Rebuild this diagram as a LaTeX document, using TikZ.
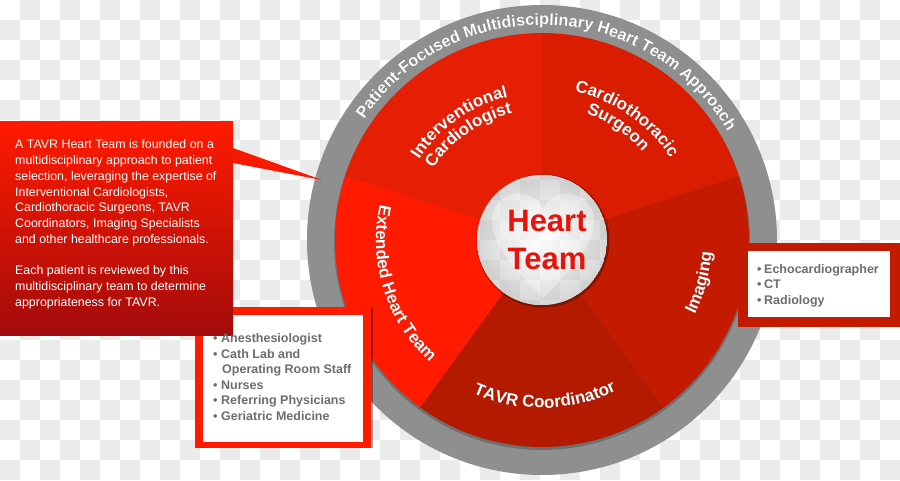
\documentclass[tikz,border=0pt]{standalone}
\usepackage{fontspec}
\setmainfont{Liberation Sans}
\usetikzlibrary{decorations.text}
\definecolor{checkgray}{HTML}{EBEBEB}
\definecolor{ringgray}{HTML}{8F8F8F}
\definecolor{segI}{HTML}{E61E03}
\definecolor{segC}{HTML}{DA1C00}
\definecolor{segM}{HTML}{C41A00}
\definecolor{segT}{HTML}{B31A00}
\definecolor{segE}{HTML}{FF1A00}
\definecolor{boxTop}{HTML}{FF1A00}
\definecolor{boxBot}{HTML}{A30B0B}
\definecolor{listgray}{HTML}{6D6D6D}
\definecolor{heartred}{HTML}{E8140C}
\newcommand{\labfont}{\fontsize{17}{17}\selectfont\bfseries}
\newcommand{\ringfont}{\fontsize{16.3}{16.3}\selectfont\bfseries}
\newcommand{\arclab}[5]{%
  \begin{scope}[shift={(0.9,-0.9)},opacity=0.45]
    \path[decorate,decoration={text along path,text align=center,text color=black,text={|#4|#5}}]
      (C) ++(#2:#1pt) arc[start angle=#2,end angle=#3,radius=#1pt];
  \end{scope}
  \path[decorate,decoration={text along path,text align=center,text color=white,text={|#4|#5}}]
    (C) ++(#2:#1pt) arc[start angle=#2,end angle=#3,radius=#1pt];
}
\tikzset{
  lefttxt/.style={anchor=base west,inner sep=0pt,text=white,font=\fontsize{12.4}{15}\selectfont},
  listtxt/.style={anchor=base west,inner sep=0pt,text=listgray,font=\fontsize{12.5}{15}\selectfont\bfseries},
  hearttxt/.style={anchor=base,inner sep=0pt,text=heartred,font=\fontsize{31}{31}\selectfont\bfseries}
}
\begin{document}
\begin{tikzpicture}[x=1pt,y=1pt]
\useasboundingbox (0,0) rectangle (900,480);
% background checkerboard
\fill[white] (0,0) rectangle (900,480);
\foreach \j in {0,...,23}{\foreach \i in {0,...,44}{%
  \pgfmathtruncatemacro\p{mod(\i+\j,2)}%
  \ifnum\p=1 \fill[checkgray] (20*\i,460-20*\j) rectangle ++(20,20);\fi}}
\coordinate (C) at (542,240);
% ring
\fill[ringgray] (C) circle (235pt);
\fill[black,opacity=0.22] (542,238) circle (208pt);
% segments
\fill[segC] (C) -- ++(18:207pt) arc[start angle=18,end angle=90,radius=207pt] -- cycle;
\fill[segI] (C) -- ++(90:207pt) arc[start angle=90,end angle=162,radius=207pt] -- cycle;
\fill[segE] (C) -- ++(162:207pt) arc[start angle=162,end angle=234,radius=207pt] -- cycle;
\fill[segT] (C) -- ++(234:207pt) arc[start angle=234,end angle=306,radius=207pt] -- cycle;
\fill[segM] (C) -- ++(306:207pt) arc[start angle=306,end angle=378,radius=207pt] -- cycle;
% centre disc
\fill[black,opacity=0.3] (543,239) circle (66.5pt);
\begin{scope}
  \clip (C) circle (65pt);
  \fill[white] (C) circle (65pt);
  \foreach \j in {8,...,16}{\foreach \i in {23,...,31}{%
    \pgfmathtruncatemacro\p{mod(\i+\j,2)}%
    \ifnum\p=1 \fill[checkgray] (20*\i,460-20*\j) rectangle ++(20,20);\fi}}
  \shade[inner color=white,outer color=black!28,opacity=0.55] (C) circle (65pt);
  \fill[white,opacity=0.35] (543,182) .. controls (520,205) and (490,235) .. (492,262)
     .. controls (494,290) and (535,295) .. (543,270)
     .. controls (551,295) and (592,290) .. (594,262)
     .. controls (596,235) and (566,205) .. (543,182) -- cycle;
\end{scope}
\node[hearttxt] (ht1) at (547,248) {Heart};
\node[hearttxt] (ht2) at (547,211) {Team};
% list boxes
\fill[segE] (195,32) rectangle (371,173);
\fill[black,opacity=0.35] (371,32) rectangle (373,173);
\fill[white] (203,38) rectangle (363,165);
\fill[segM] (738,153) rectangle (900,237);
\fill[white] (748,163) rectangle (890,229);
% left callout
\fill[boxTop!92!boxBot] (233,332) -- (322,300) -- (233,317) -- cycle;
\shade[top color=boxTop,bottom color=boxBot] (0,145) rectangle (233,358);
% arc labels
\arclab{215}{160}{16}{\ringfont}{Patient-Focused Multidisciplinary Heart Team Approach}
\arclab{147}{165}{85}{\labfont}{Interventional}
\arclab{130}{167}{83}{\labfont}{Cardiologist}
\arclab{152}{96}{14}{\labfont}{Cardiothoracic}
\arclab{134}{98}{14}{\labfont}{Surgeon}
\arclab{170}{-50}{20}{\labfont}{Imaging}
\arclab{168}{-130}{-48}{\labfont}{TAVR Coordinator}
\arclab{166}{155}{240}{\labfont}{Extended Heart Team}
% left text
\node[lefttxt] (t1) at (15,331) {A TAVR Heart Team is founded on a};
\node[lefttxt] (t2) at (15,315.3) {multidisciplinary approach to patient};
\node[lefttxt] (t3) at (15,299.6) {selection, leveraging the expertise of};
\node[lefttxt] (t4) at (15,283.9) {Interventional Cardiologists,};
\node[lefttxt] (t5) at (15,268.2) {Cardiothoracic Surgeons, TAVR};
\node[lefttxt] (t6) at (15,252.5) {Coordinators, Imaging Specialists};
\node[lefttxt] (t7) at (15,236.8) {and other healthcare professionals.};
\node[lefttxt] (t8) at (15,205.4) {Each patient is reviewed by this};
\node[lefttxt] (t9) at (15,189.7) {multidisciplinary team to determine};
\node[lefttxt] (t10) at (15,174) {appropriateness for TAVR.};
% extended list
\node[listtxt] (eb1) at (213,137.5) {\textbullet};
\node[listtxt] (e1) at (221,137.5) {Anesthesiologist};
\node[listtxt] (eb2) at (213,122) {\textbullet};
\node[listtxt] (e2) at (221,122) {Cath Lab and};
\node[listtxt] (e3) at (222,106.5) {Operating Room Staff};
\node[listtxt] (eb4) at (213,91) {\textbullet};
\node[listtxt] (e4) at (221,91) {Nurses};
\node[listtxt] (eb5) at (213,75.5) {\textbullet};
\node[listtxt] (e5) at (221,75.5) {Referring Physicians};
\node[listtxt] (eb6) at (213,60) {\textbullet};
\node[listtxt] (e6) at (221,60) {Geriatric Medicine};
% imaging list
\node[listtxt] (ib1) at (757,206.7) {\textbullet};
\node[listtxt] (i1) at (764,206.7) {Echocardiographer};
\node[listtxt] (ib2) at (757,191.2) {\textbullet};
\node[listtxt] (i2) at (764,191.2) {CT};
\node[listtxt] (ib3) at (757,175.7) {\textbullet};
\node[listtxt] (i3) at (764,175.7) {Radiology};
\end{tikzpicture}
\end{document}
